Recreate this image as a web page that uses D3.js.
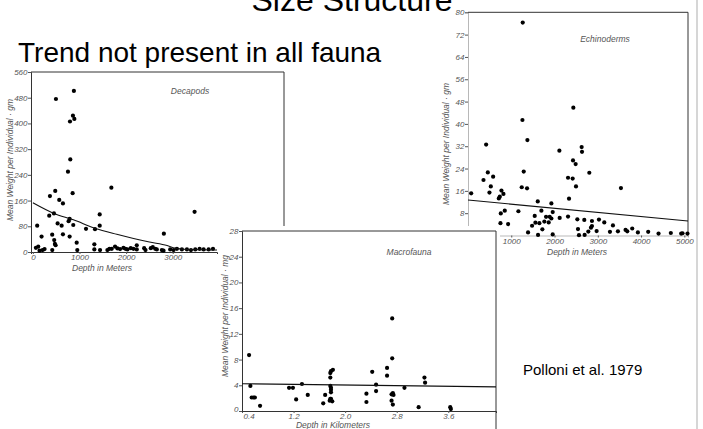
<!DOCTYPE html>
<html><head><meta charset="utf-8">
<script src="https://cdn.jsdelivr.net/npm/d3@7"></script>
<style>
html,body{margin:0;padding:0;background:#fff;}
svg{display:block;}
.scan{font-family:"Liberation Sans",Arial,sans-serif;font-style:italic;fill:#555;}
</style></head>
<body>
<svg id="chart" width="703" height="429"></svg>
<script>
// ---------- data ----------
const slideTitle = "Size Structure";
const slideSubtitle = "Trend not present in all fauna";
const citation = "Polloni et al. 1979";

// Decapods: [depth m, mean weight gm]
const decapodsPoints = [
  [495,476],[880,501],[796,406],[860,424],[890,414],[803,288],[753,250],[853,183],
  [480,190],[366,174],[566,162],[645,151],[351,113],[452,120],[531,89],[617,82],
  [789,103],[767,96],[867,84],[93,82],[187,48],[415,54],[645,55],[789,48],
  [458,37],[473,25],[488,21],[940,29],[1140,72],[1333,71],[1434,117],[1434,82],
  [1684,200],[1319,24],[2810,57],[3469,125],
  [65,13],[115,17],[143,4],[208,6],[251,9],[416,6],[953,6],[1319,8],[1441,6],
  [1599,6],[1642,10],[1692,10],[1763,17],[1814,11],[1871,9],[1943,13],[1986,10],
  [2029,8],[2100,12],[2158,10],[2229,21],[2229,8],[2387,12],[2416,6],[2530,12],
  [2573,15],[2624,10],[2659,8],[2767,6],[2803,4],[2946,8],[3018,6],[3090,10],
  [3197,8],[3305,8],[3391,6],[3484,8],[3577,10],[3663,8],[3771,8],[3864,10]
];
const decapodsCurve = [[0,153],[450,120],[870,100],[1330,74],[1800,55],[2160,42],[2500,31],[2880,20],[3050,12],[3300,8],[3600,7],[3950,6]];
const decapodsXTicks = [0,1000,2000,3000];
const decapodsYTicks = [0,80,160,240,320,400,480,560];

// Echinoderms: [depth m, mean weight gm]
const echinoPoints = [
  [1265,76.3],[73,15.1],[419,32.6],[458,22.6],[358,19.9],[581,21.1],[527,17.6],[496,15.4],
  [773,16.1],[819,14.9],[735,13.9],[712,13.3],[758,7.9],[850,8.9],[750,4.4],[927,4.1],
  [1165,8.7],[1258,41.4],[1373,34.2],[1288,22.9],[1242,17.3],[1365,16.9],[1612,12.2],
  [1696,8.9],[1542,7.0],[1558,4.6],[1481,3.5],[1388,1.1],[1619,0.2],[1719,2.2],[1765,5.0],
  [1650,4.4],[1804,6.7],[1865,4.7],[1888,6.7],[1927,11.5],[1958,8.4],[1927,6.1],[1958,0.4],
  [2119,6.3],[2112,30.4],[2312,6.8],[2312,20.7],[2335,13.2],[2419,20.4],[2435,45.8],
  [2427,26.9],[2488,25.6],[2496,17.6],[2527,5.8],[2542,2.3],[2565,0.1],[2627,31.7],
  [2635,30.0],[2688,5.6],[2696,0.2],[2781,1.4],[2804,22.5],[2842,2.8],[2865,5.2],
  [2865,3.4],[2973,1.6],[3027,5.7],[3150,4.7],[3281,1.3],[3350,3.6],[3465,1.5],
  [3535,17.0],[3642,2.0],[3681,1.5],[3796,2.5],[3927,1.1],[4165,1.3],[4404,0.7],
  [4688,0.9],[4927,0.7],[4958,0.8],[5073,0.7]
];
const echinoTrend = [[0,12.7],[5085,5.2]];
const echinoXTicks = [1000,2000,3000,4000,5000];
const echinoYTicks = [8,16,24,32,40,48,56,64,72,80];

// Macrofauna: [depth km, mean weight mg]
const macroPoints = [
  [0.51,8.7],[0.53,3.9],[0.55,2.1],[0.58,2.1],[0.60,2.1],[0.68,0.8],[1.13,3.6],[1.19,3.6],
  [1.24,1.8],[1.33,4.2],[1.42,2.5],[1.66,1.2],[1.69,2.5],[1.77,1.9],[1.78,6.2],[1.81,6.4],
  [1.77,5.9],[1.77,5.2],[1.77,3.9],[1.78,3.6],[1.78,3.3],[1.78,2.9],[1.76,1.6],[1.78,1.9],
  [1.80,1.5],[2.33,2.7],[2.33,1.4],[2.42,6.1],[2.48,4.1],[2.48,3.1],[2.65,6.7],[2.65,5.5],
  [2.73,14.4],[2.73,8.2],[2.72,2.6],[2.74,2.8],[2.75,2.5],[2.72,1.6],[2.74,1.0],[2.92,3.6],
  [3.14,0.6],[3.23,5.2],[3.24,4.4],[3.63,0.6],[3.64,0.3]
];
const macroTrend = [[0.4,4.25],[4.34,3.75]];
const macroXTicks = [0.4,1.2,2.0,2.8,3.6];
const macroYTicks = [0,4,8,12,16,20,24,28];

// ---------- drawing ----------
const svg = d3.select("#chart");
svg.append("rect").attr("width",703).attr("height",429).attr("fill","#fff");

svg.append("text").text(slideTitle)
  .attr("x",352).attr("y",11).attr("text-anchor","middle")
  .attr("font-family","Liberation Sans, Arial, sans-serif").attr("font-size",32).attr("fill","#000");
svg.append("text").text(slideSubtitle)
  .attr("x",18).attr("y",62)
  .attr("font-family","Liberation Sans, Arial, sans-serif").attr("font-size",28).attr("fill","#000");

svg.append("line").attr("x1",697).attr("x2",697).attr("y1",0).attr("y2",429)
  .attr("stroke","#c8c8c8").attr("stroke-width",1.5);

function panel(cfg){
  const g = svg.append("g");
  if (cfg.bg) {
    g.append("rect").attr("x",cfg.bg[0]).attr("y",cfg.bg[1]).attr("width",cfg.bg[2]).attr("height",cfg.bg[3]).attr("fill","#fff");
  }
  const x = d3.scaleLinear().domain(cfg.xDomain).range(cfg.xRange);
  const y = d3.scaleLinear().domain(cfg.yDomain).range(cfg.yRange);
  const [xl,xr] = cfg.xRange, [yb,yt] = cfg.yRange;
  // frame
  const frame = g.append("g").attr("stroke","#333").attr("stroke-width",1).attr("fill","none");
  frame.append("line").attr("x1",xl).attr("x2",cfg.frameRight).attr("y1",yt).attr("y2",yt);
  frame.append("line").attr("x1",cfg.frameRight).attr("x2",cfg.frameRight).attr("y1",yt).attr("y2",cfg.rightBottom);
  // axes
  const xa = g.append("g").attr("transform",`translate(0,${yb})`)
    .call(d3.axisBottom(x).tickValues(cfg.xTicks).tickSize(2).tickFormat(cfg.xFmt));
  const ya = g.append("g").attr("transform",`translate(${xl},0)`)
    .call(d3.axisLeft(y).tickValues(cfg.yTicks).tickSize(3).tickFormat(d=>String(d)));
  [xa,ya].forEach(a=>{
    a.select(".domain").attr("stroke","#333").attr("stroke-opacity",cfg.axisOpacity||1);
    a.selectAll(".tick line").attr("stroke","#555");
    a.selectAll("text").attr("class","scan").attr("font-size",8).attr("fill","#555");
  });
  ya.selectAll("text").attr("x",-3.5);
  xa.selectAll("text").attr("y",2.5);
  if (cfg.cornerShift) {
    // first x label starts at the axis, zero label nudged up, as in the scan
    xa.selectAll(".tick").filter((d,i)=>i===0).select("text").attr("text-anchor","start").attr("x",1);
    ya.selectAll(".tick").filter(d=>d===0).select("text").attr("dy","0.1em");
  }
  // points
  g.append("g").selectAll("circle").data(cfg.points).join("circle")
    .attr("cx",d=>x(d[0])).attr("cy",d=>y(d[1])).attr("r",2.1).attr("fill","#000");
  // trend
  g.append("path").datum(cfg.trend)
    .attr("d",d3.line().x(d=>x(d[0])).y(d=>y(d[1])).curve(d3.curveMonotoneX))
    .attr("fill","none").attr("stroke","#111").attr("stroke-width",1.1);
  // labels
  g.append("text").attr("class","scan").text(cfg.title)
    .attr("x",cfg.titlePos[0]).attr("y",cfg.titlePos[1]).attr("text-anchor","middle").attr("font-size",8.5);
  g.append("text").attr("class","scan").text(cfg.xLabel)
    .attr("x",cfg.xLabelPos[0]).attr("y",cfg.xLabelPos[1]).attr("text-anchor","middle").attr("font-size",8.5);
  g.append("text").attr("class","scan").text(cfg.yLabel)
    .attr("transform",`translate(${cfg.yLabelPos[0]},${cfg.yLabelPos[1]}) rotate(-90)`)
    .attr("text-anchor","middle").attr("font-size",8.5);
}

panel({
  xDomain:[-40,3950], xRange:[31,217], yDomain:[0,560], yRange:[252,72],
  frameRight:284, rightBottom:252,
  xTicks:decapodsXTicks, yTicks:decapodsYTicks, xFmt:d=>String(d),
  points:decapodsPoints, trend:decapodsCurve,
  title:"Decapods", titlePos:[190,94],
  xLabel:"Depth in Meters", xLabelPos:[102,271],
  yLabel:"Mean Weight per Individual · gm", yLabelPos:[13,160]
});

panel({
  xDomain:[0,5085], xRange:[468,688], yDomain:[0,80], yRange:[235.5,12.3],
  frameRight:688, rightBottom:235.5, axisOpacity:0.35,
  xTicks:echinoXTicks, yTicks:echinoYTicks, xFmt:d=>String(d),
  points:echinoPoints, trend:echinoTrend,
  title:"Echinoderms", titlePos:[605,42],
  xLabel:"Depth in Meters", xLabelPos:[577,255],
  yLabel:"Mean Weight per Individual · gm", yLabelPos:[449,144]
});

panel({
  bg:[228,226,272,203], cornerShift:true,
  xDomain:[0.4,4.34], xRange:[242,496], yDomain:[0,28], yRange:[411,231],
  frameRight:496, rightBottom:429,
  xTicks:macroXTicks, yTicks:macroYTicks, xFmt:d3.format(".1f"),
  points:macroPoints, trend:macroTrend,
  title:"Macrofauna", titlePos:[409,255],
  xLabel:"Depth in Kilometers", xLabelPos:[333,428],
  yLabel:"Mean Weight per Individual · mg", yLabelPos:[228,316]
});

svg.append("text").text(citation)
  .attr("x",523).attr("y",375)
  .attr("font-family","Liberation Sans, Arial, sans-serif").attr("font-size",15).attr("fill","#000");
</script>
</body></html>
